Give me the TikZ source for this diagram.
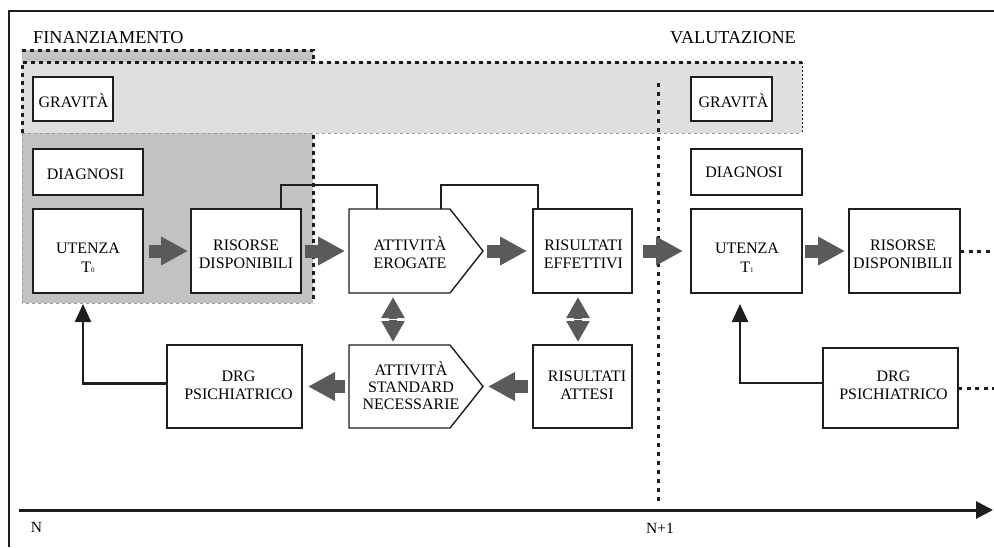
\documentclass[tikz,border=0pt]{standalone}
\usepackage{fontspec}
\setmainfont{Liberation Serif}
\usetikzlibrary{arrows.meta,calc}
\definecolor{lgray}{HTML}{DFDFDF}
\definecolor{dgray}{HTML}{C2C2C2}
\definecolor{agray}{HTML}{5A5A5A}
\definecolor{ink}{HTML}{1E1E1E}
\definecolor{thin}{HTML}{9A9A9A}
\newcommand{\sm}[1]{{\fontsize{7}{7}\selectfont #1}}
\begin{document}
\begin{tikzpicture}[x=1pt,y=-1pt,
  box/.style={draw=ink, line width=1.4pt, fill=white, inner sep=0pt, outer sep=0pt},
  chev/.style={draw=ink, line width=1.4pt, fill=white},
  txt/.style={align=center, font=\fontsize{16}{18}\selectfont, inner sep=0pt, anchor=base},
  head/.style={font=\fontsize{18.2}{20}\selectfont, inner sep=0pt, anchor=base west},
  blk/.style={draw=agray, line width=13pt, -{Triangle[length=27pt 0,width=27pt 0]}},
  dbl/.style={draw=agray, line width=8pt, {Triangle[length=21pt 0,width=22pt 0]}-{Triangle[length=21pt 0,width=22pt 0]}},
  fb/.style={draw=ink, line width=2.4pt, -{Triangle[length=18pt 0,width=16pt 0]}},
  thickdot/.style={draw=ink, line width=3pt, dash pattern=on 4pt off 4pt},
  thindash/.style={draw=thin, line width=0.8pt, dash pattern=on 3pt off 3pt},
  tail/.style={draw=ink, line width=3pt, dash pattern=on 4pt off 4.5pt},
  conn/.style={draw=ink, line width=1.4pt}]
\useasboundingbox (0,0) rectangle (994,547);
% frame
\draw[line width=1.5pt, ink] (9,547) -- (9,11) -- (994,11);
% headers
\node[head] (hfin) at (33,43) {FINANZIAMENTO};
\node[head] (hval) at (670,43) {VALUTAZIONE};
% dark region (finanziamento)
\fill[dgray] (22,50) rectangle (313,303);
\draw[thickdot] (22,50) -- (313,50) -- (313,303);
\draw[thindash] (22,133) -- (22,303) -- (313,303);
% light region (gravita)
\fill[lgray] (22,62) rectangle (802,133);
\draw[thickdot] (22,133) -- (22,62) -- (802,62);
\draw[draw=ink, line width=1pt, dash pattern=on 2pt off 2pt] (802,62) -- (802,133);
\draw[thindash] (22,133) -- (802,133);
% vertical separator
\draw[draw=ink, line width=3pt, dash pattern=on 3.5pt off 5.5pt] (658,83) -- (658,505);
% axis
\coordinate (ax0) at (19,510);
\coordinate (ax1) at (993,510);
\draw[draw=ink, line width=3pt, -{Triangle[length=17pt 0,width=17pt 0]}] (ax0) -- (ax1);
\node[font=\fontsize{15.5}{17}\selectfont, inner sep=0pt, anchor=base] (lN) at (36.5,532) {N};
\node[font=\fontsize{15.5}{17}\selectfont, inner sep=0pt, anchor=base] (lN1) at (660,533) {N+1};
% boxes left
\node[box, minimum width=80pt, minimum height=44pt] (gr1) at (73,99) {};
\node[txt] (gr1t) at (73.5,107) {GRAVITÀ};
\node[box, minimum width=110pt, minimum height=46pt] (dg1) at (88,172) {};
\node[txt] (dg1t) at (85.5,179) {DIAGNOSI};
\node[box, minimum width=110pt, minimum height=84pt] (ut0) at (88,251) {};
\node[txt, font=\fontsize{16}{19}\selectfont] (ut0t) at (88,272) {UTENZA\\T\sm{0}};
\node[box, minimum width=110pt, minimum height=84pt] (ris) at (246,251) {};
\node[txt] (rist) at (246,268) {RISORSE\\DISPONIBILI};
% chevron attivita erogate
\node[inner sep=0pt, outer sep=0pt, minimum width=101pt, minimum height=84pt] (att) at (399.5,251) {};
\draw[chev] (att.north west) -- (att.north east) -- ($(att.east)+(33,0)$) -- (att.south east) -- (att.south west) -- cycle;
\node[txt] (attt) at (410,268) {ATTIVITÀ\\EROGATE};
\node[box, minimum width=99pt, minimum height=84pt] (rise) at (582.5,251) {};
\node[txt] (riset) at (583.5,268) {RISULTATI\\EFFETTIVI};
% right part
\node[box, minimum width=81pt, minimum height=44pt] (gr2) at (731.5,99) {};
\node[txt] (gr2t) at (733.5,107) {GRAVITÀ};
\node[box, minimum width=111pt, minimum height=46pt] (dg2) at (746.5,172) {};
\node[txt] (dg2t) at (744,177.5) {DIAGNOSI};
\node[box, minimum width=111pt, minimum height=84pt] (ut1) at (746.5,251) {};
\node[txt, font=\fontsize{16}{19}\selectfont] (ut1t) at (747,272) {UTENZA\\T\sm{1}};
\node[box, minimum width=111pt, minimum height=84pt] (ris2) at (904.5,251) {};
\node[txt] (ris2t) at (903,268) {RISORSE\\DISPONIBILII};
% bottom row
\node[box, minimum width=135pt, minimum height=83pt] (drg1) at (234.5,386.5) {};
\node[txt] (drg1t) at (238.5,399) {DRG\\PSICHIATRICO};
\node[inner sep=0pt, outer sep=0pt, minimum width=101pt, minimum height=83pt] (std) at (399.5,386.5) {};
\draw[chev] (std.north west) -- (std.north east) -- ($(std.east)+(33,0)$) -- (std.south east) -- (std.south west) -- cycle;
\node[txt, font=\fontsize{16}{17}\selectfont] (stdt) at (411,409) {ATTIVITÀ\\STANDARD\\NECESSARIE};
\node[box, minimum width=99pt, minimum height=83pt] (rat) at (582.5,386.5) {};
\node[txt] (ratt) at (587,399) {RISULTATI\\ATTESI};
\node[box, minimum width=135pt, minimum height=80pt] (drg2) at (890.5,388) {};
\node[txt] (drg2t) at (893.5,399) {DRG\\PSICHIATRICO};
% bracket connectors
\draw[conn] ([xshift=-20pt]ris.north east) |- (377,185) -- ([xshift=28pt]att.north west);
\draw[conn] ([xshift=-9pt]att.north east) |- (538,185) -- ([xshift=5pt]rise.north west);
% block arrows top row
\draw[blk] ([xshift=6pt]ut0.east) -- ([xshift=-3pt]ris.west);
\draw[blk] ([xshift=4pt]ris.east) -- ([xshift=-4pt]att.west);
\draw[blk] ([xshift=37pt]att.east) -- ([xshift=-6pt]rise.west);
\draw[blk] ([xshift=11pt]rise.east) -- ([xshift=-8pt]ut1.west);
\draw[blk] ([xshift=3pt]ut1.east) -- ([xshift=-4pt]ris2.west);
% block arrows bottom row
\draw[blk] ([xshift=-5pt]rat.west) -- ([xshift=38pt]std.east);
\draw[blk] ([xshift=-4pt]std.west) -- ([xshift=6pt]drg1.east);
% double arrows
\draw[dbl] ([xshift=-6.5pt,yshift=-4pt]att.south) -- ([xshift=-6.5pt,yshift=3pt]std.north);
\draw[white, line width=1.2pt] (382,319.5) -- (404,319.5);
\draw[dbl] ([xshift=-4.5pt,yshift=-4pt]rise.south) -- ([xshift=-4.5pt,yshift=3pt]rat.north);
\draw[white, line width=1.2pt] (567,319.5) -- (589,319.5);
% feedback arrows
\coordinate (fb1) at (83,304);
\coordinate (fb2) at (740,304);
\draw[fb] ([yshift=3pt]drg1.west) -| (fb1);
\draw[fb] ([yshift=5pt]drg2.west) -| (fb2);
% dotted tails
\coordinate (t1) at (994,251);
\coordinate (t2) at (994,388);
\draw[tail] (ris2.east) -- (t1);
\draw[tail] (drg2.east) -- (t2);
\end{tikzpicture}
\end{document}
